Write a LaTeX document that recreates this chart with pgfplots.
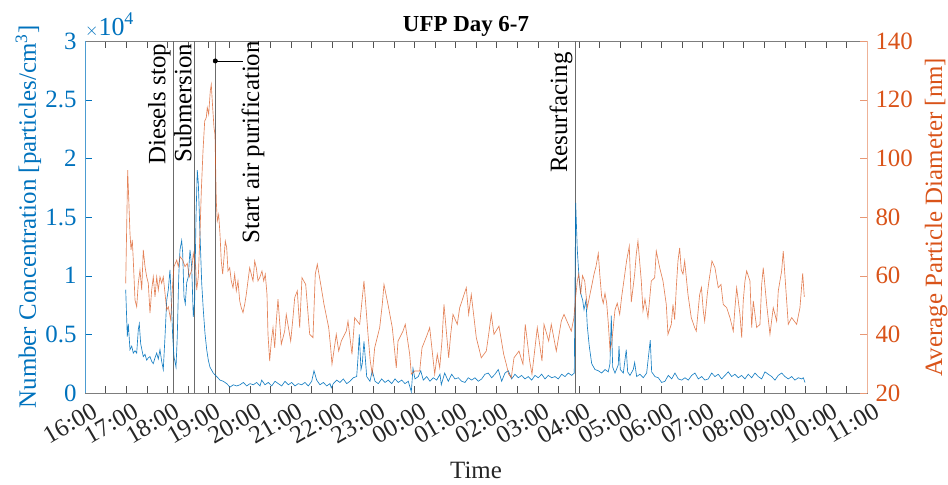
\documentclass[border=0pt]{standalone}
\usepackage{fontspec}
\setmainfont{Liberation Serif}
\usepackage{pgfplots}
\usepackage{pgfplotstable}
\pgfplotsset{compat=1.18}
\usetikzlibrary{calc}

\definecolor{mblue}{rgb}{0,0.447,0.741}
\definecolor{morange}{rgb}{0.85,0.325,0.098}
\definecolor{eventgray}{rgb}{0.42,0.42,0.42}
\definecolor{axgray}{rgb}{0.15,0.15,0.15}

% Number concentration [particles/cm^3], time in hours after 16:00
\pgfplotstableread{
h n
0.989 8800
1.028 4800
1.052 5900
1.093 3700
1.135 4000
1.173 3400
1.215 3600
1.256 3400
1.295 5400
1.319 5900
1.353 4200
1.416 3100
1.458 3300
1.499 2800
1.538 3000
1.579 3100
1.620 2700
1.659 2500
1.701 3000
1.742 3400
1.781 2900
1.822 3700
1.863 2700
1.902 2000
1.944 4800
1.985 7900
2.024 8800
2.065 10500
2.089 8500
2.131 4800
2.162 3100
2.211 2200
2.242 4800
2.277 9900
2.308 12200
2.349 13000
2.374 11900
2.405 8200
2.437 7600
2.471 9400
2.510 9900
2.551 12200
2.592 10800
2.631 6500
2.665 7900
2.697 15000
2.728 19000
2.753 17900
2.794 13600
2.835 9400
2.874 7100
2.915 5100
2.957 3700
2.996 2800
3.037 2200
3.117 1700
3.200 1400
3.280 1100
3.360 1000
3.443 800
3.523 500
3.603 700
3.686 600
3.766 700
3.846 900
3.929 600
4.009 800
4.089 700
4.172 900
4.252 600
4.293 1100
4.373 700
4.453 900
4.536 600
4.616 1000
4.696 800
4.779 600
4.859 1000
4.939 700
5.022 900
5.102 600
5.182 800
5.265 700
5.345 900
5.425 600
5.508 1000
5.564 1900
5.629 1100
5.709 700
5.790 900
5.872 600
5.952 800
5.984 450
6.033 800
6.115 1100
6.195 900
6.276 1200
6.358 800
6.438 1000
6.518 1300
6.601 1400
6.633 3000
6.664 5000
6.706 2000
6.737 2500
6.778 4400
6.810 3000
6.844 1400
6.924 1000
6.980 1900
7.046 1000
7.126 800
7.209 1200
7.289 900
7.369 1100
7.451 800
7.532 1200
7.612 900
7.694 1100
7.775 800
7.855 1000
7.896 500
7.928 100
7.969 2100
8.017 1200
8.098 1400
8.157 1900
8.219 1100
8.302 1400
8.382 1000
8.462 1300
8.545 1100
8.625 1600
8.657 700
8.739 1700
8.827 1000
8.909 1600
8.989 1200
9.070 1300
9.152 1000
9.232 900
9.312 1300
9.395 1100
9.475 1300
9.555 1000
9.638 1200
9.718 1600
9.798 1700
9.881 1300
9.961 1600
10.041 2000
10.124 1000
10.204 1700
10.284 1900
10.367 1200
10.447 1600
10.527 1300
10.610 1500
10.690 1200
10.770 1400
10.853 1100
10.933 1500
11.013 1300
11.096 1600
11.176 1200
11.256 1500
11.339 1300
11.419 1400
11.499 1200
11.582 1600
11.662 1400
11.742 1700
11.825 1500
11.888 1700
11.922 16200
11.961 12200
12.002 9900
12.043 8500
12.092 7900
12.124 7100
12.172 7900
12.204 5700
12.252 4000
12.311 2500
12.391 2000
12.471 1900
12.553 1700
12.634 2000
12.714 1800
12.755 2500
12.787 6600
12.821 2200
12.877 1700
12.957 2400
12.974 4000
13.006 2000
13.080 1700
13.151 3700
13.185 1800
13.241 1500
13.321 2000
13.355 2600
13.403 1400
13.484 1600
13.564 1300
13.646 1700
13.734 4500
13.768 1800
13.848 1400
13.929 1300
14.011 900
14.091 1000
14.172 1500
14.254 1200
14.334 1700
14.415 1200
14.497 1100
14.577 1300
14.658 1100
14.740 1500
14.820 1700
14.901 1200
14.983 1400
15.063 1100
15.143 1200
15.226 1700
15.306 1400
15.386 1600
15.469 1200
15.549 1500
15.629 1800
15.712 1400
15.792 1600
15.872 1300
15.955 1500
16.035 1200
16.115 1600
16.198 1300
16.278 1700
16.358 1400
16.441 1200
16.521 1800
16.601 1600
16.684 1400
16.764 1100
16.844 1500
16.926 1700
17.007 1400
17.087 1200
17.170 1400
17.250 1100
17.330 1300
17.413 1200
17.452 1300
17.494 900
}\numberdata

% Average particle diameter [nm], time in hours after 16:00
\pgfplotstableread{
h d
0.989 57.4
1.037 96.0
1.093 74.4
1.118 68.8
1.149 72.2
1.173 65.3
1.215 51.7
1.256 49.4
1.295 57.4
1.336 61.9
1.378 55.1
1.416 68.8
1.458 63.1
1.499 59.6
1.538 57.4
1.579 47.2
1.620 55.1
1.659 59.6
1.701 52.8
1.742 59.6
1.781 55.1
1.822 59.6
1.863 57.4
1.902 59.6
1.944 54.0
1.985 48.3
2.024 49.4
2.082 44.9
2.131 57.4
2.162 63.1
2.228 65.3
2.267 63.1
2.308 66.5
2.374 65.3
2.430 63.1
2.485 64.2
2.534 59.6
2.592 61.9
2.631 67.6
2.689 63.1
2.714 55.1
2.753 59.6
2.794 74.4
2.826 88.9
2.867 102.5
2.908 112.7
2.947 113.9
2.971 117.3
3.005 115.0
3.044 123.0
3.068 125.2
3.102 117.3
3.134 110.5
3.158 108.2
3.190 85.5
3.214 78.6
3.248 80.9
3.280 74.1
3.311 65.0
3.345 60.5
3.377 66.1
3.409 71.8
3.443 69.5
3.474 61.6
3.516 62.7
3.554 58.2
3.596 55.9
3.637 60.5
3.676 54.8
3.717 58.2
3.759 51.4
3.797 49.1
3.839 47.4
3.880 50.2
3.919 53.6
3.960 58.2
4.001 62.7
4.040 60.5
4.082 58.2
4.123 65.0
4.162 62.7
4.203 58.2
4.244 59.3
4.300 61.6
4.342 58.2
4.380 60.5
4.422 53.6
4.446 40.0
4.487 30.9
4.526 37.7
4.568 42.3
4.609 35.4
4.648 44.5
4.689 52.0
4.769 36.6
4.852 41.1
4.890 46.8
4.998 37.7
5.053 45.7
5.095 52.5
5.158 54.8
5.216 42.3
5.272 59.3
5.362 57.0
5.459 40.0
5.539 38.9
5.595 60.5
5.644 63.9
5.741 55.9
5.807 50.2
5.921 42.3
5.969 35.4
6.001 29.8
6.105 40.0
6.164 34.3
6.227 37.7
6.348 41.1
6.390 44.5
6.487 33.2
6.552 45.7
6.674 43.4
6.778 58.2
6.876 40.0
6.931 30.9
6.980 26.4
7.038 35.4
7.160 42.3
7.223 50.2
7.264 57.0
7.362 50.2
7.466 42.3
7.524 34.3
7.563 28.6
7.605 37.7
7.726 41.1
7.782 43.4
7.889 33.2
7.928 26.4
8.010 27.5
8.132 27.5
8.188 35.4
8.253 37.7
8.317 40.0
8.375 42.3
8.496 26.4
8.559 33.2
8.618 28.6
8.673 37.7
8.722 50.2
8.836 32.0
8.885 40.0
8.941 46.8
9.045 43.4
9.104 49.1
9.159 51.4
9.264 55.9
9.322 46.8
9.385 53.6
9.451 45.7
9.507 38.9
9.628 32.0
9.750 34.3
9.808 40.0
9.871 46.8
9.937 40.0
10.058 42.8
10.173 33.2
10.236 29.8
10.294 26.4
10.357 25.2
10.423 32.0
10.544 34.3
10.641 29.8
10.697 43.4
10.804 30.9
10.860 26.4
10.989 42.3
11.103 30.9
11.152 43.4
11.266 37.7
11.329 43.4
11.451 34.3
11.572 44.5
11.638 46.8
11.815 41.1
11.880 45.7
11.912 51.4
11.961 58.2
11.995 60.5
12.043 53.6
12.087 60.0
12.141 58.2
12.204 49.1
12.318 57.0
12.367 60.5
12.415 63.1
12.471 67.6
12.512 59.6
12.553 52.8
12.592 50.6
12.634 54.0
12.675 50.6
12.714 43.8
12.755 34.7
12.796 36.9
12.877 48.3
12.932 50.6
12.991 46.8
13.039 52.8
13.095 58.5
13.161 65.3
13.224 70.0
13.273 51.0
13.355 60.5
13.394 67.3
13.435 71.8
13.516 58.2
13.557 48.0
13.605 52.0
13.678 45.7
13.759 58.2
13.841 59.3
13.880 68.4
13.963 62.7
14.043 58.2
14.123 50.2
14.164 40.0
14.245 43.4
14.286 50.2
14.327 45.0
14.366 55.9
14.407 65.0
14.448 69.5
14.487 62.0
14.529 60.5
14.570 65.0
14.650 53.6
14.730 45.7
14.813 42.3
14.852 41.1
14.934 53.6
14.978 56.0
15.022 48.0
15.056 44.5
15.119 53.6
15.160 58.2
15.233 65.0
15.306 62.7
15.386 55.9
15.452 57.0
15.507 50.2
15.590 49.1
15.670 45.7
15.751 41.1
15.792 49.1
15.833 55.9
15.913 46.8
15.955 38.9
15.993 51.4
16.035 58.2
16.076 61.6
16.156 58.2
16.198 42.3
16.237 51.4
16.319 42.3
16.399 43.4
16.441 57.0
16.479 62.7
16.562 50.2
16.642 40.0
16.722 49.1
16.805 44.5
16.844 54.8
16.926 61.6
16.965 68.4
17.048 51.4
17.087 43.4
17.170 45.7
17.291 43.4
17.371 49.1
17.437 60.8
17.476 52.8
}\diameterdata

\newcommand{\ticksize}{\fontsize{25}{29}\selectfont}
\newcommand{\labelsize}{\fontsize{25}{29}\selectfont}

\pgfplotsset{
  ufp frame/.style={
    width=782bp, height=352bp, scale only axis,
    xmin=0, xmax=19,
    clip mode=individual,
    scaled x ticks=false, scaled y ticks=false,
    /pgf/number format/assume math mode=true,
    tick align=inside,
    major tick length=7bp, minor tick length=7bp,
    tick label style={font=\ticksize},
  }
}

\begin{document}
\begin{tikzpicture}
% left axis: number concentration, with the time axis and the events
\begin{axis}[ufp frame,
  ymin=0, ymax=30000,
  ytick={0,5000,...,30000},
  yticklabels={0,0.5,1,1.5,2,2.5,3},
  ytick pos=left,
  xtick={0,...,19},
  xticklabels={16:00,17:00,18:00,19:00,20:00,21:00,22:00,23:00,00:00,01:00,02:00,03:00,04:00,05:00,06:00,07:00,08:00,09:00,10:00,11:00},
  minor x tick num=1,
  x tick label style={xshift=6bp, yshift=-7bp, rotate=30, anchor=north east, text=axgray, inner sep=1bp},
  y tick label style={xshift=-5bp, text=mblue},
  axis line style={draw=axgray!60},
  x tick style={draw=axgray!80},
  y tick style={draw=mblue},
  xlabel={Time},
  every axis x label/.style={at={($(rel axis cs:0.5,0)+(0,-85bp)$)}, anchor=base, text=axgray, font=\labelsize},
  ylabel={Number Concentration [particles/cm\textsuperscript{3}]},
  every axis y label/.style={at={($(rel axis cs:0,0.5)+(-49bp,0)$)}, rotate=90, anchor=base, text=mblue, font=\labelsize},
]
% event markers
\draw[eventgray, line width=0.7bp] (axis cs:2.145,0) -- (axis cs:2.145,30000);
\draw[eventgray, line width=0.7bp] (axis cs:2.656,0) -- (axis cs:2.656,30000);
\draw[eventgray, line width=0.7bp] (axis cs:3.166,0) -- (axis cs:3.166,30000);
\draw[eventgray, line width=0.7bp] (axis cs:11.912,0) -- (axis cs:11.912,30000);

\addplot[mblue, line width=0.65bp, opacity=0.9] table[x=h, y=n] {\numberdata};

% leader from the purification line to its label
\addplot[black, line width=0.5bp, mark=*, mark size=2.2bp, mark indices={1}] coordinates {(3.166,28300) (3.839,28300)};

\begin{scope}[font=\labelsize]
\node[rotate=90, anchor=south east, inner sep=2.5bp] at (axis cs:2.145,30000) {Diesels stop};
\node[rotate=90, anchor=south east, inner sep=2.5bp] at (axis cs:2.656,30000) {Submersion};
\node[rotate=90, anchor=north east, inner sep=0bp] at (axis cs:3.80,30000) {Start air purification};
\node[rotate=90, anchor=south east, inner sep=2.5bp] at (axis cs:11.912,29250) {Resurfacing};
\end{scope}

% common factor of the left scale
\node[anchor=base west, inner sep=0bp, text=mblue] at ($(rel axis cs:0,1)+(0,6bp)$)
  {\fontsize{19}{22}\selectfont$\times$\fontsize{26}{30}\selectfont 10\raisebox{11bp}{\fontsize{18}{21}\selectfont 4}};
\node[anchor=base, inner sep=0bp, font=\bfseries\fontsize{23}{27}\selectfont] at ($(rel axis cs:0.5,1)+(-10bp,10bp)$) {UFP Day 6-7};

\draw[mblue!70, line width=0.6bp] (rel axis cs:0,0) -- (rel axis cs:0,1);
\end{axis}

% right axis: average particle diameter
\begin{axis}[ufp frame,
  ymin=20, ymax=140,
  ytick={20,40,...,140},
  axis x line=none,
  axis y line*=right,
  y axis line style={draw=morange!45, -},
  y tick style={draw=morange!60},
  y tick label style={xshift=5bp, text=morange},
  ylabel={Average Particle Diameter [nm]},
  every axis y label/.style={at={($(rel axis cs:1,0.5)+(75bp,0)$)}, rotate=90, anchor=base, text=morange, font=\labelsize},
]
\addplot[morange, line width=0.65bp, opacity=0.72] table[x=h, y=d] {\diameterdata};
\end{axis}

\pgfresetboundingbox
\path[use as bounding box] (-85bp,-92bp) rectangle (863bp,393bp);
\end{tikzpicture}
\end{document}
